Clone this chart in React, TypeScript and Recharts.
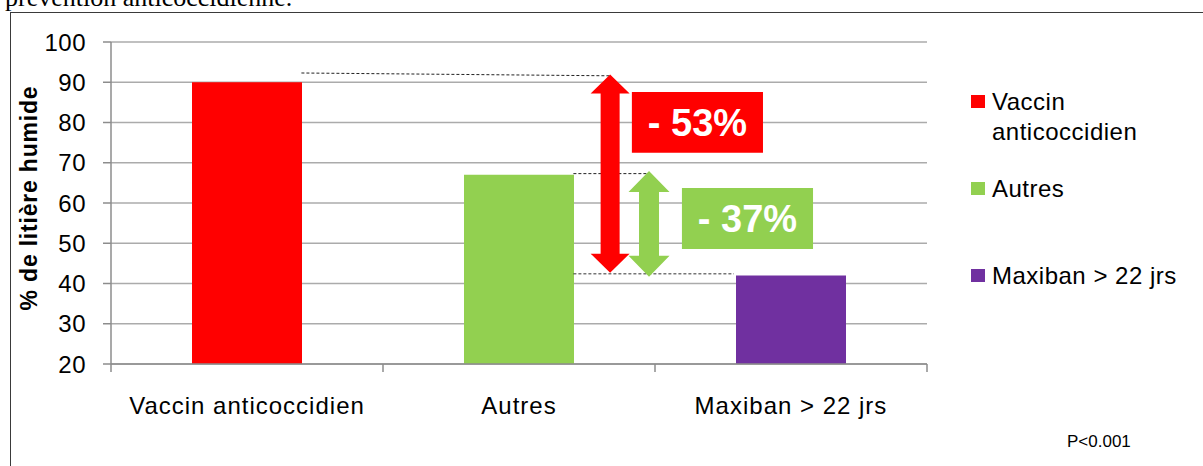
import {
  BarChart, Bar, Cell, XAxis, YAxis, CartesianGrid,
  ReferenceLine, ReferenceArea,
} from 'recharts';

// données
const categories = ['Vaccin anticoccidien', 'Autres', 'Maxiban > 22 jrs'];
const litiere = [90, 67, 42];
const colors = ['#FF0000', '#92D050', '#7030A0'];
const yTicks = [20, 30, 40, 50, 60, 70, 80, 90, 100];
// axe x numérique : catégorie i centrée sur i + 0.5, séparations sur les entiers
const xTicks = [0, 0.5, 1, 1.5, 2, 2.5, 3];

const dropLabels = ['- 53%', '- 37%'];

const rows = categories.map((name, i) => ({ name, pos: i + 0.5, value: litiere[i] }));

const FONT = '"Liberation Sans", Arial, Helvetica, sans-serif';
const GRID = '#ABABAB';
const AXIS = '#8C8C8C';

function XTick(props: any) {
  const { x, y, payload } = props;
  const v = payload.value;
  const axisY = y - 10;
  if (Number.isInteger(v)) {
    return <line x1={x} y1={axisY} x2={x} y2={axisY + 8} stroke={AXIS} strokeWidth={1.5} />;
  }
  return (
    <text x={x} y={y + 40} textAnchor="middle" fontSize={24} letterSpacing={1} fill="#000" fontFamily={FONT}>
      {categories[Math.floor(v)]}
    </text>
  );
}

function YTick(props: any) {
  const { x, y, payload } = props;
  return (
    <text x={x} y={y} dy="0.36em" textAnchor="end" fontSize={24} letterSpacing={0.5} fill="#000" fontFamily={FONT}>
      {payload.value}
    </text>
  );
}

const doubleArrow = (color: string, shaft: number, head: number, headLen: number) => (p: any) => {
  const cx = p.x1;
  const top = Math.min(p.y1, p.y2);
  const bot = Math.max(p.y1, p.y2);
  const pts = [
    [cx, top], [cx + head / 2, top + headLen], [cx + shaft / 2, top + headLen],
    [cx + shaft / 2, bot - headLen], [cx + head / 2, bot - headLen], [cx, bot],
    [cx - head / 2, bot - headLen], [cx - shaft / 2, bot - headLen],
    [cx - shaft / 2, top + headLen], [cx - head / 2, top + headLen],
  ].map(q => q.join(',')).join(' ');
  return <polygon points={pts} fill={color} />;
};

const boxLabel = (text: string) => (props: any) => {
  const { x, y, width, height } = props.viewBox;
  return (
    <text x={x + width / 2} y={y + height / 2} dy="0.36em" textAnchor="middle" fill="#fff"
      fontSize={38} fontWeight={700} fontFamily={FONT}>
      {text}
    </text>
  );
};

const yTitle = (props: any) => {
  const { y, height } = props.viewBox;
  const cy = y + height / 2 - 5;
  return (
    <text x={37} y={cy} transform={`rotate(-90, 37, ${cy})`} textAnchor="middle" fontSize={23}
      fontWeight={700} letterSpacing={0.8} fill="#000" fontFamily={FONT}>
      % de litière humide
    </text>
  );
};

export default function App() {
  return (
    <div style={{ position: 'absolute', left: 0, top: 0, width: 1203, height: 466, overflow: 'hidden', background: '#fff', fontFamily: FONT }}>
      <div style={{ position: 'absolute', left: 10, top: 12, width: 1200, height: 470, border: '1px solid #3a3a3a' }} />

      <div style={{ position: 'absolute', left: 0, top: 0 }}>
        <BarChart width={1203} height={466} data={rows} margin={{ top: 42, right: 276, bottom: 62, left: 0 }}>
          <CartesianGrid vertical={false} stroke={GRID} strokeWidth={1.5} />
          <XAxis dataKey="pos" type="number" domain={[0, 3]} allowDataOverflow ticks={xTicks} interval={0}
            height={40} tickSize={8} tickMargin={2} tickLine={false}
            axisLine={{ stroke: AXIS, strokeWidth: 1.5 }} tick={<XTick />} />
          <YAxis type="number" domain={[20, 100]} ticks={yTicks} interval={0} width={111}
            tickSize={8} tickMargin={17} axisLine={{ stroke: AXIS, strokeWidth: 1.5 }}
            tickLine={{ stroke: AXIS, strokeWidth: 1.5 }} tick={<YTick />} label={yTitle} />
          <Bar dataKey="value" barSize={110} isAnimationActive={false}>
            {rows.map((_, i) => <Cell key={i} fill={colors[i]} />)}
          </Bar>

          {/* pointillés de repère */}
          <ReferenceLine segment={[{ x: 0.7, y: 92.3 }, { x: 1.835, y: 91.6 }]}
            stroke="#222" strokeWidth={1} strokeDasharray="3 2" />
          <ReferenceLine segment={[{ x: 1.7, y: 67.3 }, { x: 1.975, y: 67.3 }]}
            stroke="#222" strokeWidth={1} strokeDasharray="3 2" />
          <ReferenceLine segment={[{ x: 1.7, y: 42.4 }, { x: 2.29, y: 42.4 }]}
            stroke="#333" strokeWidth={1} strokeDasharray="3 2" />

          {/* flèches */}
          <ReferenceLine segment={[{ x: 1.835, y: 91.9 }, { x: 1.835, y: 42.7 }]}
            shape={doubleArrow('#FF0000', 19, 39, 19)} />
          <ReferenceLine segment={[{ x: 1.978, y: 67.95 }, { x: 1.978, y: 41.7 }]}
            shape={doubleArrow('#92D050', 20, 41, 21)} />

          {/* étiquettes */}
          <ReferenceArea x1={1.915} x2={2.397} y1={72.5} y2={87.6} fill="#FF0000" fillOpacity={1}
            stroke="none" label={boxLabel(dropLabels[0])} />
          <ReferenceArea x1={2.099} x2={2.581} y1={48.6} y2={63.7} fill="#92D050" fillOpacity={1}
            stroke="none" label={boxLabel(dropLabels[1])} />
        </BarChart>
      </div>

      {/* légende */}
      {categories.map((c, i) => (
        <div key={c} style={{ position: 'absolute', left: 971, top: [86.7, 174, 260.7][i], display: 'flex', alignItems: 'flex-start' }}>
          <div style={{ width: 14, height: 13, background: colors[i], marginTop: 8.3, flex: 'none' }} />
          <div style={{ marginLeft: 7, width: 205, fontSize: 24, lineHeight: '30px', letterSpacing: 0.5, color: '#000' }}>{c}</div>
        </div>
      ))}

      <svg width={1203} height={466} style={{ position: 'absolute', left: 0, top: 0, pointerEvents: 'none' }}>
        <text x={5} y={6} fontFamily='"Liberation Serif", "Times New Roman", serif' fontSize={26} fill="#000">
          prévention anticoccidienne.
        </text>
        <text x={1067} y={447} fontFamily={FONT} fontSize={17} fill="#000">P&lt;0.001</text>
      </svg>
    </div>
  );
}
